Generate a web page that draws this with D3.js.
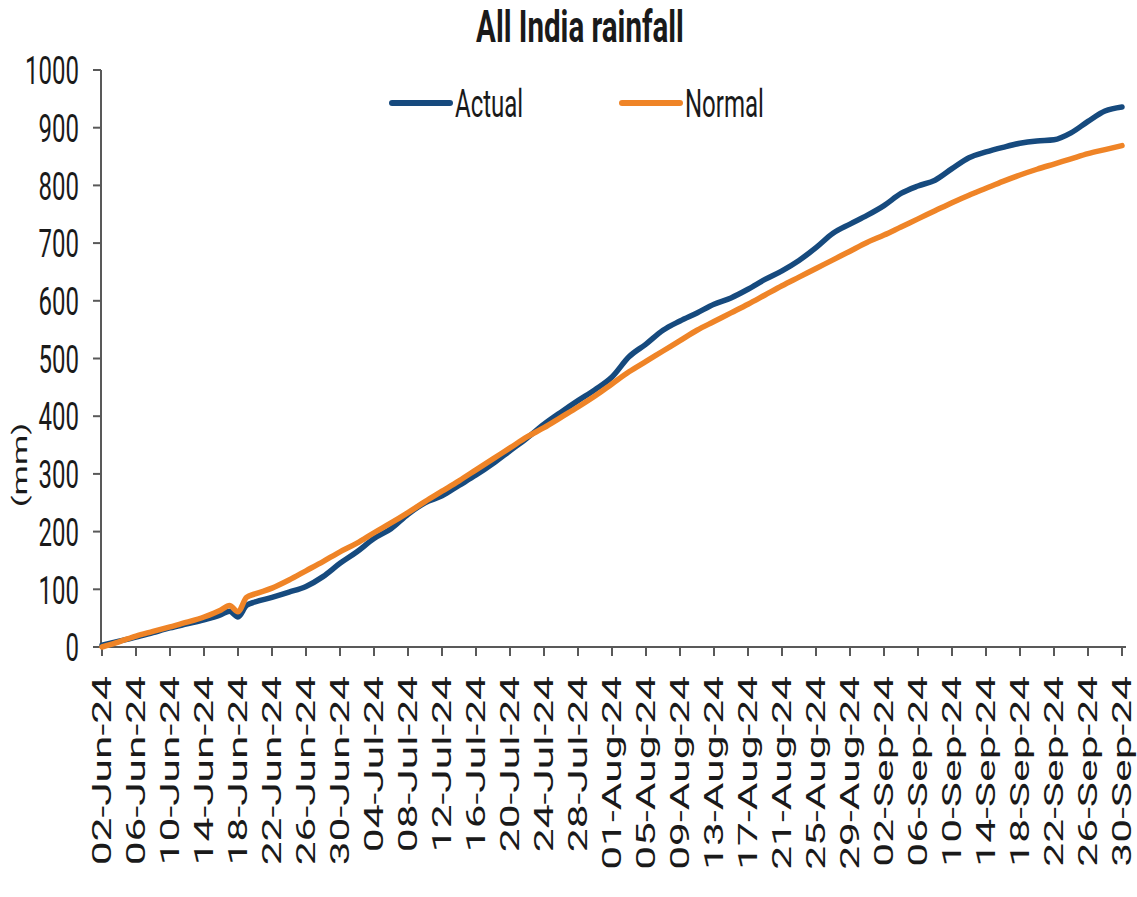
<!DOCTYPE html>
<html>
<head>
<meta charset="utf-8">
<script src="https://cdn.jsdelivr.net/npm/d3@7"></script>
<style>
  body { margin: 0; background: #fff; }
  text { font-family: Roboto, "DejaVu Sans", sans-serif; fill: #1a1a1a; }
</style>
</head>
<body>
<div class="chart"></div>
<script>
var dates = [
  "2024-06-02", "2024-06-04", "2024-06-06", "2024-06-08", "2024-06-10", "2024-06-12", "2024-06-14", "2024-06-16",
  "2024-06-17", "2024-06-18", "2024-06-19", "2024-06-20", "2024-06-22", "2024-06-24", "2024-06-26", "2024-06-28",
  "2024-06-30", "2024-07-02", "2024-07-04", "2024-07-06", "2024-07-08", "2024-07-10", "2024-07-12", "2024-07-14",
  "2024-07-16", "2024-07-18", "2024-07-20", "2024-07-22", "2024-07-24", "2024-07-26", "2024-07-28", "2024-07-30",
  "2024-08-01", "2024-08-03", "2024-08-05", "2024-08-07", "2024-08-09", "2024-08-11", "2024-08-13", "2024-08-15",
  "2024-08-17", "2024-08-19", "2024-08-21", "2024-08-23", "2024-08-25", "2024-08-27", "2024-08-29", "2024-08-31",
  "2024-09-02", "2024-09-04", "2024-09-06", "2024-09-08", "2024-09-10", "2024-09-12", "2024-09-14", "2024-09-16",
  "2024-09-18", "2024-09-20", "2024-09-22", "2024-09-24", "2024-09-26", "2024-09-28", "2024-09-30"
];

var actual = [
  3, 10, 17, 25, 33, 40, 47, 56,
  62, 52, 72, 78, 86, 95, 105, 122,
  145, 165, 188, 205, 230, 250, 262, 280,
  298, 318, 340, 362, 386, 407, 427, 446,
  468, 503, 525, 549, 565, 579, 594, 605,
  620, 637, 652, 670, 692, 717, 733, 748,
  765, 786, 799, 809, 829, 848, 858, 866,
  873, 877, 879, 891, 911, 929, 936
];

var normal = [
  0, 9, 19, 27, 35, 43, 52, 64,
  72, 61, 86, 92, 102, 116, 132, 148,
  165, 180, 198, 215, 233, 252, 270, 288,
  307, 326, 345, 364, 380, 398, 416, 435,
  456, 477, 495, 513, 531, 549, 564, 579,
  594, 610, 626, 641, 656, 671, 686, 701,
  714, 728, 742, 756, 770, 783, 795, 807,
  818, 828, 837, 846, 855, 862, 869
];

var tickLabels = [
  "02-Jun-24", "06-Jun-24", "10-Jun-24", "14-Jun-24", "18-Jun-24", "22-Jun-24", "26-Jun-24", "30-Jun-24",
  "04-Jul-24", "08-Jul-24", "12-Jul-24", "16-Jul-24", "20-Jul-24", "24-Jul-24", "28-Jul-24",
  "01-Aug-24", "05-Aug-24", "09-Aug-24", "13-Aug-24", "17-Aug-24", "21-Aug-24", "25-Aug-24", "29-Aug-24",
  "02-Sep-24", "06-Sep-24", "10-Sep-24", "14-Sep-24", "18-Sep-24", "22-Sep-24", "26-Sep-24", "30-Sep-24"
];

var yTicks = [0, 100, 200, 300, 400, 500, 600, 700, 800, 900, 1000];

var seriesNames = ["Actual", "Normal"];
var colors = ["#164a7e", "#ef8427"];

// the reference image is stretched vertically, so text is stretched the same way
var stretch = 1.65;

var width = 1137, height = 897;
var plotLeft = 102, plotRight = 1122, plotTop = 70, plotBottom = 647;

var parseDate = d3.timeParse("%Y-%m-%d");
var parseTick = d3.timeParse("%d-%b-%y");

var x = d3.scaleTime()
    .domain([parseDate(dates[0]), parseDate(dates[dates.length - 1])])
    .range([plotLeft, plotRight]);

var y = d3.scaleLinear()
    .domain([0, 1000])
    .range([plotBottom, plotTop]);

var svg = d3.select(".chart").append("svg")
    .attr("width", width)
    .attr("height", height);

// title
svg.append("text")
    .attr("transform", "translate(580,42) scale(1,1.48)")
    .attr("text-anchor", "middle")
    .style("font-size", "29.5px")
    .style("font-weight", "bold")
    .text("All India rainfall");

// y axis
var yAxis = svg.append("g");
yAxis.append("line")
    .attr("x1", plotLeft - 1).attr("x2", plotLeft - 1)
    .attr("y1", y(1000)).attr("y2", y(0))
    .attr("stroke", "#595959").attr("stroke-width", 2);

yAxis.selectAll(".ytick")
    .data(yTicks)
    .enter().append("line")
    .attr("x1", plotLeft - 9).attr("x2", plotLeft - 1)
    .attr("y1", function(d) { return y(d); })
    .attr("y2", function(d) { return y(d); })
    .attr("stroke", "#595959").attr("stroke-width", 2);

yAxis.selectAll(".ylabel")
    .data(yTicks)
    .enter().append("text")
    .attr("transform", function(d) { return "translate(79," + y(d) + ") scale(1," + stretch + ")"; })
    .attr("text-anchor", "end")
    .attr("dy", "0.36em")
    .style("font-size", "24px")
    .text(function(d) { return d; });

svg.append("text")
    .attr("transform", "translate(20,465) scale(1," + stretch + ") rotate(-90)")
    .attr("text-anchor", "middle")
    .attr("dy", "0.35em")
    .style("font-size", "21px")
    .text("(mm)");

// x axis
var xAxis = svg.append("g");
xAxis.append("line")
    .attr("x1", plotLeft - 2).attr("x2", plotRight + 4)
    .attr("y1", plotBottom).attr("y2", plotBottom)
    .attr("stroke", "#595959").attr("stroke-width", 2);

xAxis.selectAll(".xtick")
    .data(tickLabels)
    .enter().append("line")
    .attr("x1", function(d) { return x(parseTick(d)); })
    .attr("x2", function(d) { return x(parseTick(d)); })
    .attr("y1", plotBottom).attr("y2", plotBottom + 9)
    .attr("stroke", "#595959").attr("stroke-width", 2);

xAxis.selectAll(".xlabel")
    .data(tickLabels)
    .enter().append("text")
    .attr("transform", function(d) {
        return "translate(" + x(parseTick(d)) + ",676) scale(1,1.7) rotate(-90)";
    })
    .attr("text-anchor", "end")
    .attr("dy", "0.36em")
    .style("font-size", "25px")
    .text(function(d) { return d; });

// lines
var rows = dates.map(function(d, i) {
    return { date: parseDate(d), actual: actual[i], normal: normal[i] };
});

function line(key) {
    return d3.line()
        .curve(d3.curveMonotoneX)
        .x(function(d) { return x(d.date); })
        .y(function(d) { return y(d[key]); });
}

svg.append("path")
    .datum(rows)
    .attr("fill", "none")
    .attr("stroke", colors[0])
    .attr("stroke-width", 5.5)
    .attr("stroke-linejoin", "round")
    .attr("stroke-linecap", "round")
    .attr("d", line("actual"));

svg.append("path")
    .datum(rows)
    .attr("fill", "none")
    .attr("stroke", colors[1])
    .attr("stroke-width", 5.5)
    .attr("stroke-linejoin", "round")
    .attr("stroke-linecap", "round")
    .attr("d", line("normal"));

// legend
var legendX = [392, 622];
var legend = svg.selectAll(".legend")
    .data(seriesNames)
    .enter().append("g")
    .attr("transform", function(d, i) { return "translate(" + legendX[i] + ",103)"; });

legend.append("line")
    .attr("x1", 0).attr("x2", 58)
    .attr("y1", 0).attr("y2", 0)
    .attr("stroke", function(d, i) { return colors[i]; })
    .attr("stroke-width", 6)
    .attr("stroke-linecap", "round");

legend.append("text")
    .attr("transform", "translate(63,0) scale(1," + stretch + ")")
    .attr("dy", "0.36em")
    .style("font-size", "24px")
    .text(function(d) { return d; });
</script>
</body>
</html>
